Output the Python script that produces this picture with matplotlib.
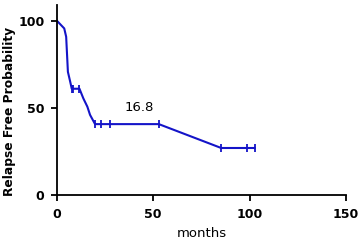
import numpy as np
import matplotlib.pyplot as plt

plt.rcParams['font.family'] = ['DejaVu Sans']

# survival curve points (months, %)
months = [0, 3.8, 4.8, 5.7, 6.9, 7.7, 8.2, 11.7, 13.7, 15.8, 17.2, 19.8, 22.9, 27.5, 52.9, 85.3, 98.5, 102.6]
surv = [100, 95.6, 90.8, 70.7, 65, 61, 61, 61, 55.5, 50.7, 46, 40.7, 40.7, 40.7, 40.7, 27, 27, 27]
# censored observations
cens_t = [7.7, 8.2, 11.7, 19.8, 22.9, 27.5, 52.9, 85.3, 98.5, 102.6]
cens_s = [61, 61, 61, 40.7, 40.7, 40.7, 40.7, 27, 27, 27]
median_label = "16.8"

fig = plt.figure(figsize=(3.58, 2.42), dpi=100)
ax = fig.add_axes([0.159, 0.194, 0.807, 0.785])

col = '#1414c8'
ax.plot(months, surv, color=col, lw=1.5)
ax.plot(cens_t, cens_s, ls='none', marker='|', ms=6, mew=1.3, color=col)
ax.text(42.8, 50, median_label, fontsize=9.5, ha='center', va='center')

ax.set_xlim(0, 150)
ax.set_ylim(0, 109)
ax.set_xticks([0, 50, 100, 150])
ax.set_yticks([0, 50, 100])
for s in ['top', 'right']:
    ax.spines[s].set_visible(False)
for s in ['left', 'bottom']:
    ax.spines[s].set_linewidth(1.3)
ax.tick_params(width=1.3, length=4, labelsize=9, pad=5)
for lab in ax.get_xticklabels() + ax.get_yticklabels():
    lab.set_fontweight('bold')
ax.set_xlabel('months', fontsize=9.5, labelpad=5)
ax.set_ylabel('Relapse Free Probability', fontsize=8.8, fontweight='bold')
ax.yaxis.set_label_coords(-0.14, 0.44)

fig.savefig('out.png', dpi=100)
